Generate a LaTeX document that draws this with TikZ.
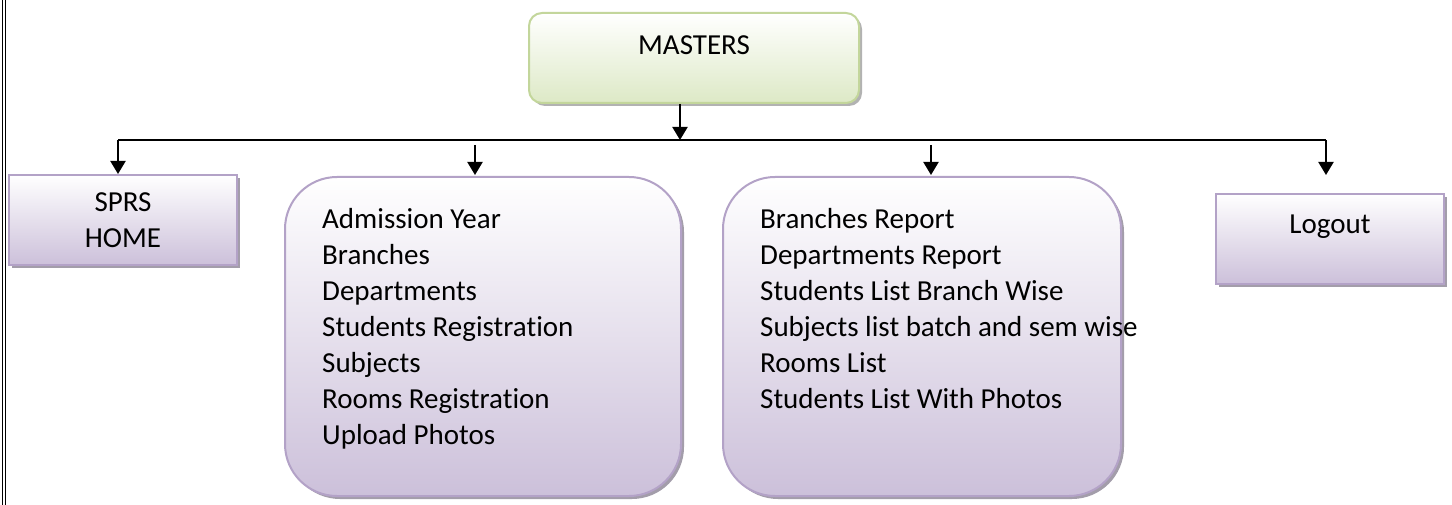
\documentclass[tikz,border=0pt]{standalone}
\usepackage{fontspec}
\setmainfont{Carlito}[Ligatures=NoCommon]
\usetikzlibrary{arrows.meta,shadows}
\definecolor{pborder}{HTML}{B3A2C7}
\definecolor{pfill}{HTML}{CCC0DA}
\definecolor{gborder}{HTML}{C3D69B}
\definecolor{gfill}{HTML}{DDE9C6}
\definecolor{shadowc}{HTML}{A39DAA}
\begin{document}
\begin{tikzpicture}[x=1pt,y=-1pt,
  every node/.style={font=\fontsize{29}{36}\selectfont},
  pbox/.style={draw=pborder, line width=2pt, top color=white, bottom color=pfill,
    drop shadow={shadow xshift=3pt, shadow yshift=-3pt, fill=shadowc, opacity=1}},
  gbox/.style={draw=gborder, line width=2pt, top color=white, bottom color=gfill,
    rounded corners=13pt,
    drop shadow={shadow xshift=3pt, shadow yshift=-3pt, fill=black!30, opacity=1}},
  listtext/.style={anchor=base west, inner sep=0pt, align=left},
  arr/.style={line width=2pt, -{Triangle[width=15pt,length=13pt]}},
  bus/.style={line width=2pt}]
\useasboundingbox (0,0) rectangle (1452,505);
\fill[white] (0,0) rectangle (1452,505);
% page border double line
\draw[line width=1pt] (2,0) -- (2,505);
\draw[line width=1pt] (5,0) -- (5,505);

% boxes
\node[gbox, minimum width=330pt, minimum height=90pt, align=center] (masters) at (694,58) {MASTERS\\[-10pt]\mbox{}};
\node[pbox, minimum width=228pt, minimum height=90pt, align=center] (sprs) at (123,220) {SPRS\\HOME};
\node[pbox, rounded corners=52pt, minimum width=396pt, minimum height=319pt] (admin) at (483,336.5) {};
\node[pbox, rounded corners=52pt, minimum width=398pt, minimum height=319pt] (reports) at (922,336.5) {};
\node[pbox, minimum width=228pt, minimum height=90pt, align=center] (logout) at (1330,239) {Logout\\[-6pt]\mbox{}};

% list texts (base anchor = baseline of last line)
\node[listtext] (admintext) at (322,444) {Admission Year\\Branches\\Departments\\Students Registration\\Subjects\\Rooms Registration\\Upload Photos};
\node[listtext] (reportstext) at (760,408) {Branches Report\\Departments Report\\Students List Branch Wise\\Subjects list batch and sem wise\\Rooms List\\Students List With Photos};

% connectors
\coordinate (busmid) at (680,140);
\coordinate (busL) at (118,140);
\coordinate (busR) at (1326,140);
\coordinate (a2top) at (475,145);
\coordinate (a3top) at (931,145);
\coordinate (a2tip) at (475,175);
\coordinate (a3tip) at (931,175);
\coordinate (a4tip) at (1326,175);

\draw[bus] (busL) -- (busR);
\draw[arr] (masters.south -| busmid) -- (busmid);
\draw[arr] (busL) -- (sprs.north -| busL);
\draw[arr] (a2top) -- (a2tip);
\draw[arr] (a3top) -- (a3tip);
\draw[arr] (busR) -- (a4tip);
\end{tikzpicture}
\end{document}
